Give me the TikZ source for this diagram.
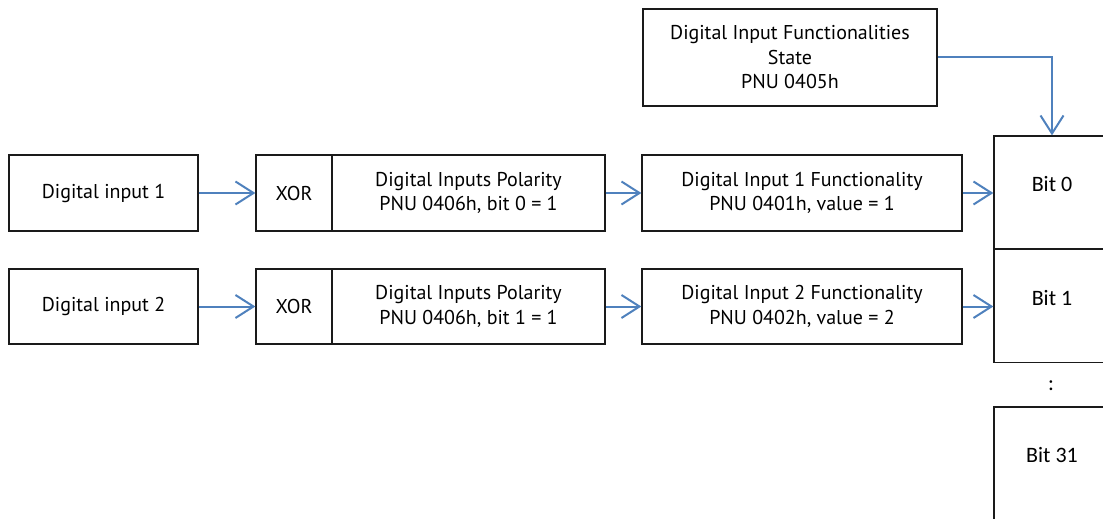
\documentclass[tikz,border=0pt]{standalone}
\usepackage{fontspec}
\setmainfont{PT Sans}
\newfontfamily\bitfont{Carlito}
\usetikzlibrary{arrows.meta}
\definecolor{linkblue}{HTML}{4F81BD}
\definecolor{boxline}{HTML}{1A1A1A}
\tikzset{
  box/.style={draw=boxline, line width=1.3pt, inner sep=0pt, align=center,
    font=\fontsize{20}{24.5}\selectfont},
  bitbox/.style={draw=boxline, line width=1.3pt, inner sep=0pt,
    minimum width=116pt, minimum height=113pt,
    font=\bitfont\fontsize{22}{26}\selectfont, text height=15pt, text depth=17pt},
  link/.style={draw=linkblue, line width=2pt,
    -{Straight Barb[length=18pt,width=23pt,line width=2pt]}},
}
\begin{document}
\begin{tikzpicture}[x=1pt,y=-1pt]
\clip (0,0) rectangle (1103,519);
\useasboundingbox (0,0) rectangle (1103,519);

% top state box
\node[box, minimum width=294pt, minimum height=97pt] (state) at (790,57.5)
  {Digital Input Functionalities\\State\\PNU 0405h};

% first input chain
\node[box, minimum width=189pt, minimum height=76pt] (in1) at (103.5,193) {Digital input 1};
\node[box, minimum width=76pt, minimum height=76pt] (xor1) at (294,193) {XOR};
\node[box, minimum width=273pt, minimum height=76pt] (pol1) at (468.5,193)
  {Digital Inputs Polarity\\PNU 0406h, bit 0 = 1};
\node[box, minimum width=320pt, minimum height=76pt] (fun1) at (802,193)
  {Digital Input 1 Functionality\\PNU 0401h, value = 1};

% second input chain
\node[box, minimum width=189pt, minimum height=75pt] (in2) at (103.5,306.5) {Digital input 2};
\node[box, minimum width=76pt, minimum height=75pt] (xor2) at (294,306.5) {XOR};
\node[box, minimum width=273pt, minimum height=75pt] (pol2) at (468.5,306.5)
  {Digital Inputs Polarity\\PNU 0406h, bit 1 = 1};
\node[box, minimum width=320pt, minimum height=75pt] (fun2) at (802,306.5)
  {Digital Input 2 Functionality\\PNU 0402h, value = 2};

% state register bits
\node[bitbox] (bit0) at (1052,192.5) {Bit 0};
\node[bitbox] (bit1) at (1052,306) {Bit 1};
\node[font=\bitfont\fontsize{22}{26}\selectfont] (dots) at (1051,386) {:};
\node[bitbox] (bit31) at (1052,463.5) {Bit 31};

% connectors
\draw[link] (in1.east) -- (xor1.west);
\draw[link] (pol1.east) -- (fun1.west);
\draw[link] (fun1.east) -- (fun1.east -| bit0.west);
\draw[link] (in2.east) -- (xor2.west);
\draw[link] (pol2.east) -- (fun2.west);
\draw[link] (fun2.east) -- (fun2.east -| bit1.west);
\draw[link] (state.east) -| (bit0.north);
\end{tikzpicture}
\end{document}
